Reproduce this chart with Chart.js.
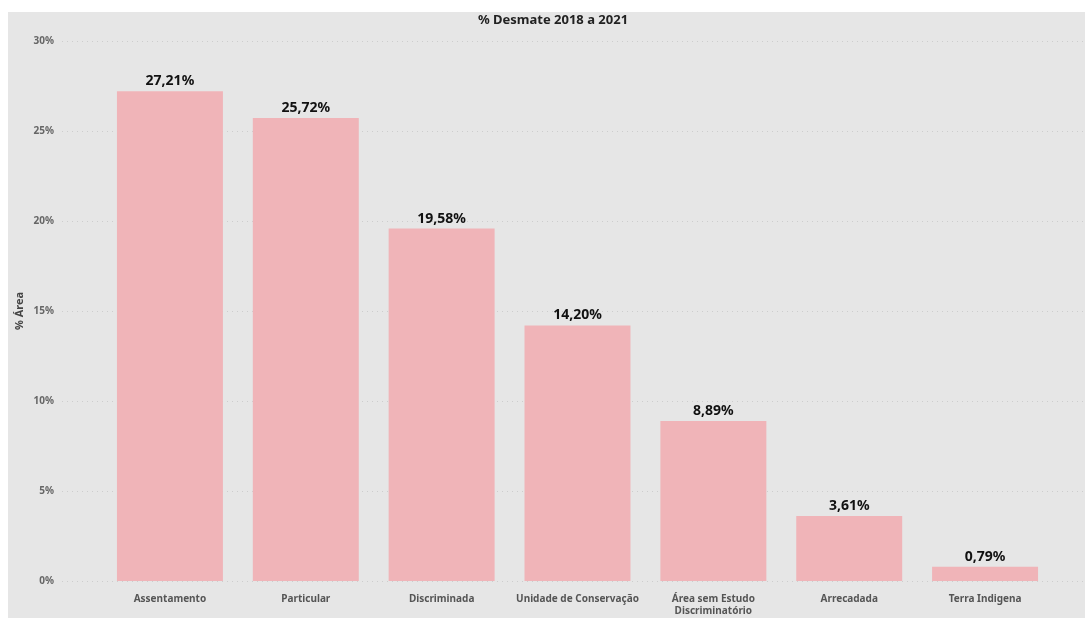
<!DOCTYPE html>
<html>
<head>
<meta charset="utf-8">
<script src="https://cdn.jsdelivr.net/npm/chart.js@4.4.0/dist/chart.umd.min.js"></script>
<style>
  html, body { margin: 0; padding: 0; background: #fff; }
  #wrap { width: 1085px; height: 618px; }
</style>
</head>
<body>
<div id="wrap"><canvas id="grafico" width="1085" height="618"></canvas></div>
<script>
const titulo = '% Desmate 2018 a 2021';
const categorias = ['Assentamento', 'Particular', 'Discriminada', 'Unidade de Conservação', ['Área sem Estudo', 'Discriminatório'], 'Arrecadada', 'Terra Indigena'];
const valores = [27.21, 25.72, 19.58, 14.20, 8.89, 3.61, 0.79];
const ticksY = [0, 5, 10, 15, 20, 25, 30];

const fonte = "'Noto Sans', 'Open Sans', sans-serif";

// fundo cinza + título do visual
const fundo = {
  id: 'fundo',
  beforeDraw(chart) {
    const c = chart.ctx;
    c.save();
    c.fillStyle = '#e6e6e6';
    c.fillRect(8, 12, chart.width - 8, chart.height - 12);
    c.font = 'bold 13px ' + fonte;
    c.fillStyle = '#222';
    c.textAlign = 'center';
    c.textBaseline = 'middle';
    c.fillText(titulo, 553, 20);
    c.restore();
  }
};

// linhas de grade pontilhadas (mais largas que a área das barras)
const grade = {
  id: 'grade',
  beforeDatasetsDraw(chart) {
    const c = chart.ctx;
    const y = chart.scales.y;
    c.save();
    c.strokeStyle = '#cdcdcd';
    c.lineWidth = 1;
    c.setLineDash([1, 4]);
    ticksY.forEach(v => {
      const py = Math.round(y.getPixelForValue(v)) + 0.5;
      c.beginPath();
      c.moveTo(62, py);
      c.lineTo(chart.width - 2, py);
      c.stroke();
    });
    c.restore();
  }
};

// rótulos de dados acima das barras
const rotulos = {
  id: 'rotulos',
  afterDatasetsDraw(chart) {
    const c = chart.ctx;
    const meta = chart.getDatasetMeta(0);
    c.save();
    c.font = 'bold 14px ' + fonte;
    c.fillStyle = '#111';
    c.textAlign = 'center';
    c.textBaseline = 'bottom';
    meta.data.forEach((bar, i) => {
      c.fillText(valores[i].toFixed(2).replace('.', ',') + '%', bar.x, bar.y - 3);
    });
    c.restore();
  }
};

const ctx = document.getElementById('grafico').getContext('2d');

new Chart(ctx, {
  type: 'bar',
  data: {
    labels: categorias,
    datasets: [{
      label: '% Área',
      data: valores,
      backgroundColor: '#f0b4b8',
      borderWidth: 0,
      categoryPercentage: 1,
      barPercentage: 0.78
    }]
  },
  options: {
    responsive: false,
    animation: false,
    layout: { autoPadding: false, padding: { left: 8, right: 32, top: 41, bottom: 0 } },
    scales: {
      x: {
        grid: { display: false, drawTicks: false },
        border: { display: false },
        ticks: {
          color: '#555',
          font: { family: fonte, size: 10, weight: 'bold' },
          padding: 12,
          maxRotation: 0,
          autoSkip: false
        },
        afterFit(scale) {
          scale.height = 37;
          scale.paddingLeft = 0;
          scale.paddingRight = 0;
        }
      },
      y: {
        min: 0,
        max: 30,
        grid: { display: false, drawTicks: false },
        border: { display: false },
        ticks: {
          stepSize: 5,
          color: '#666',
          padding: 48,
          font: { family: fonte, size: 10, weight: 'bold' },
          callback: v => v + '%'
        },
        title: {
          display: true,
          text: '% Área',
          color: '#444',
          font: { family: fonte, size: 11, weight: 'bold' },
          padding: { top: 5, bottom: 0 }
        },
        afterFit(scale) {
          scale.width = 94;
          scale.paddingTop = 0;
          scale.paddingBottom = 0;
        }
      }
    },
    plugins: {
      legend: { display: false },
      tooltip: { enabled: false },
      title: { display: false }
    }
  },
  plugins: [fundo, grade, rotulos]
});
</script>
</body>
</html>
